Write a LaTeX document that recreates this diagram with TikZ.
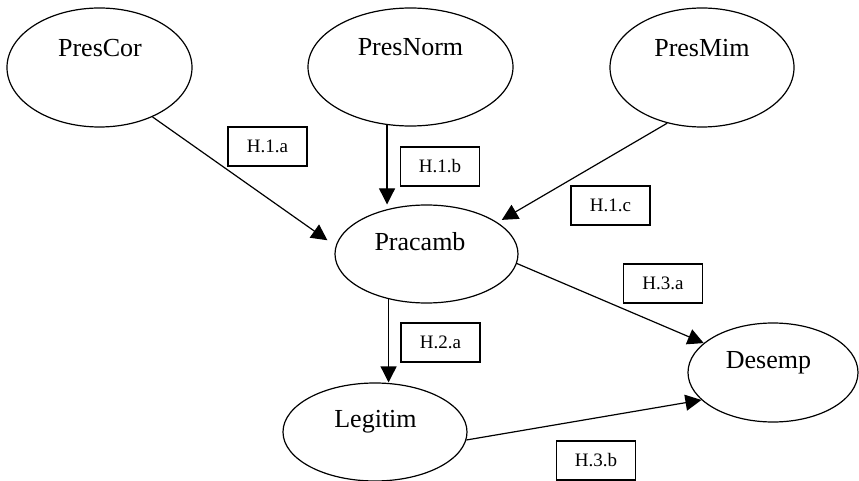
\documentclass[tikz,border=0pt]{standalone}
\usepackage{fontspec}
\setmainfont{Liberation Serif}
\usetikzlibrary{arrows.meta,shapes.geometric}
\tikzset{
  var/.style={draw, ellipse, line width=1.2pt, inner sep=0pt},
  vartext/.style={anchor=base, inner sep=0pt, font=\fontsize{26}{28}\selectfont},
  hyp/.style={draw, rectangle, line width=1.2pt, minimum width=79pt, minimum height=39pt, inner sep=0pt, font=\fontsize{19}{21}\selectfont},
  arr/.style={line width=1.2pt, -{Triangle[length=16pt,width=16pt]}}
}
\begin{document}
\begin{tikzpicture}[x=1pt, y=-1pt]
\useasboundingbox (0,0) rectangle (859,481);
% latent variables
\node[var, minimum width=185pt, minimum height=119pt] (PresCor) at (99.5,67.5) {};
\node[var, minimum width=205pt, minimum height=118pt] (PresNorm) at (410.5,67) {};
\node[var, minimum width=184pt, minimum height=119pt] (PresMim) at (702,67.5) {};
\node[var, minimum width=183pt, minimum height=98pt] (Pracamb) at (426.5,254) {};
\node[var, minimum width=184pt, minimum height=98pt] (Legitim) at (375,432) {};
\node[var, minimum width=170pt, minimum height=99pt] (Desemp) at (773,372.5) {};
% texts
\node[vartext] (tPresCor) at (100,57) {PresCor};
\node[vartext] (tPresNorm) at (410.5,55.5) {PresNorm};
\node[vartext] (tPresMim) at (702,57) {PresMim};
\node[vartext] (tPracamb) at (420,250.5) {Pracamb};
\node[vartext] (tLegitim) at (375.5,427) {Legitim};
\node[vartext] (tDesemp) at (768.5,368) {Desemp};
% hypothesis labels
\node[hyp] (H1a) at (267.5,146.5) {H.1.a};
\node[hyp] (H1b) at (440,166.5) {H.1.b};
\node[hyp] (H1c) at (610.5,205.5) {H.1.c};
\node[hyp] (H2a) at (440.5,342.5) {H.2.a};
\node[hyp] (H3a) at (663,283.5) {H.3.a};
\node[hyp] (H3b) at (596,460.5) {H.3.b};
% connectors
\draw[arr, shorten >=10pt] (PresCor.-43) -- (Pracamb.175);
\draw[arr] (PresNorm.-112.3) -- (PresNorm.-112.3 |- Pracamb.north);
\draw[arr, shorten >=5pt] (PresMim.-122.2) -- (Pracamb.24);
\draw[arr] (Pracamb.-6) -- (Desemp.157.6);
\draw[arr] (Pracamb.-130.9) -- (Pracamb.-130.9 |- Legitim.north);
\draw[arr] (Legitim.-5.6) -- (Desemp.201.7);
\end{tikzpicture}
\end{document}
